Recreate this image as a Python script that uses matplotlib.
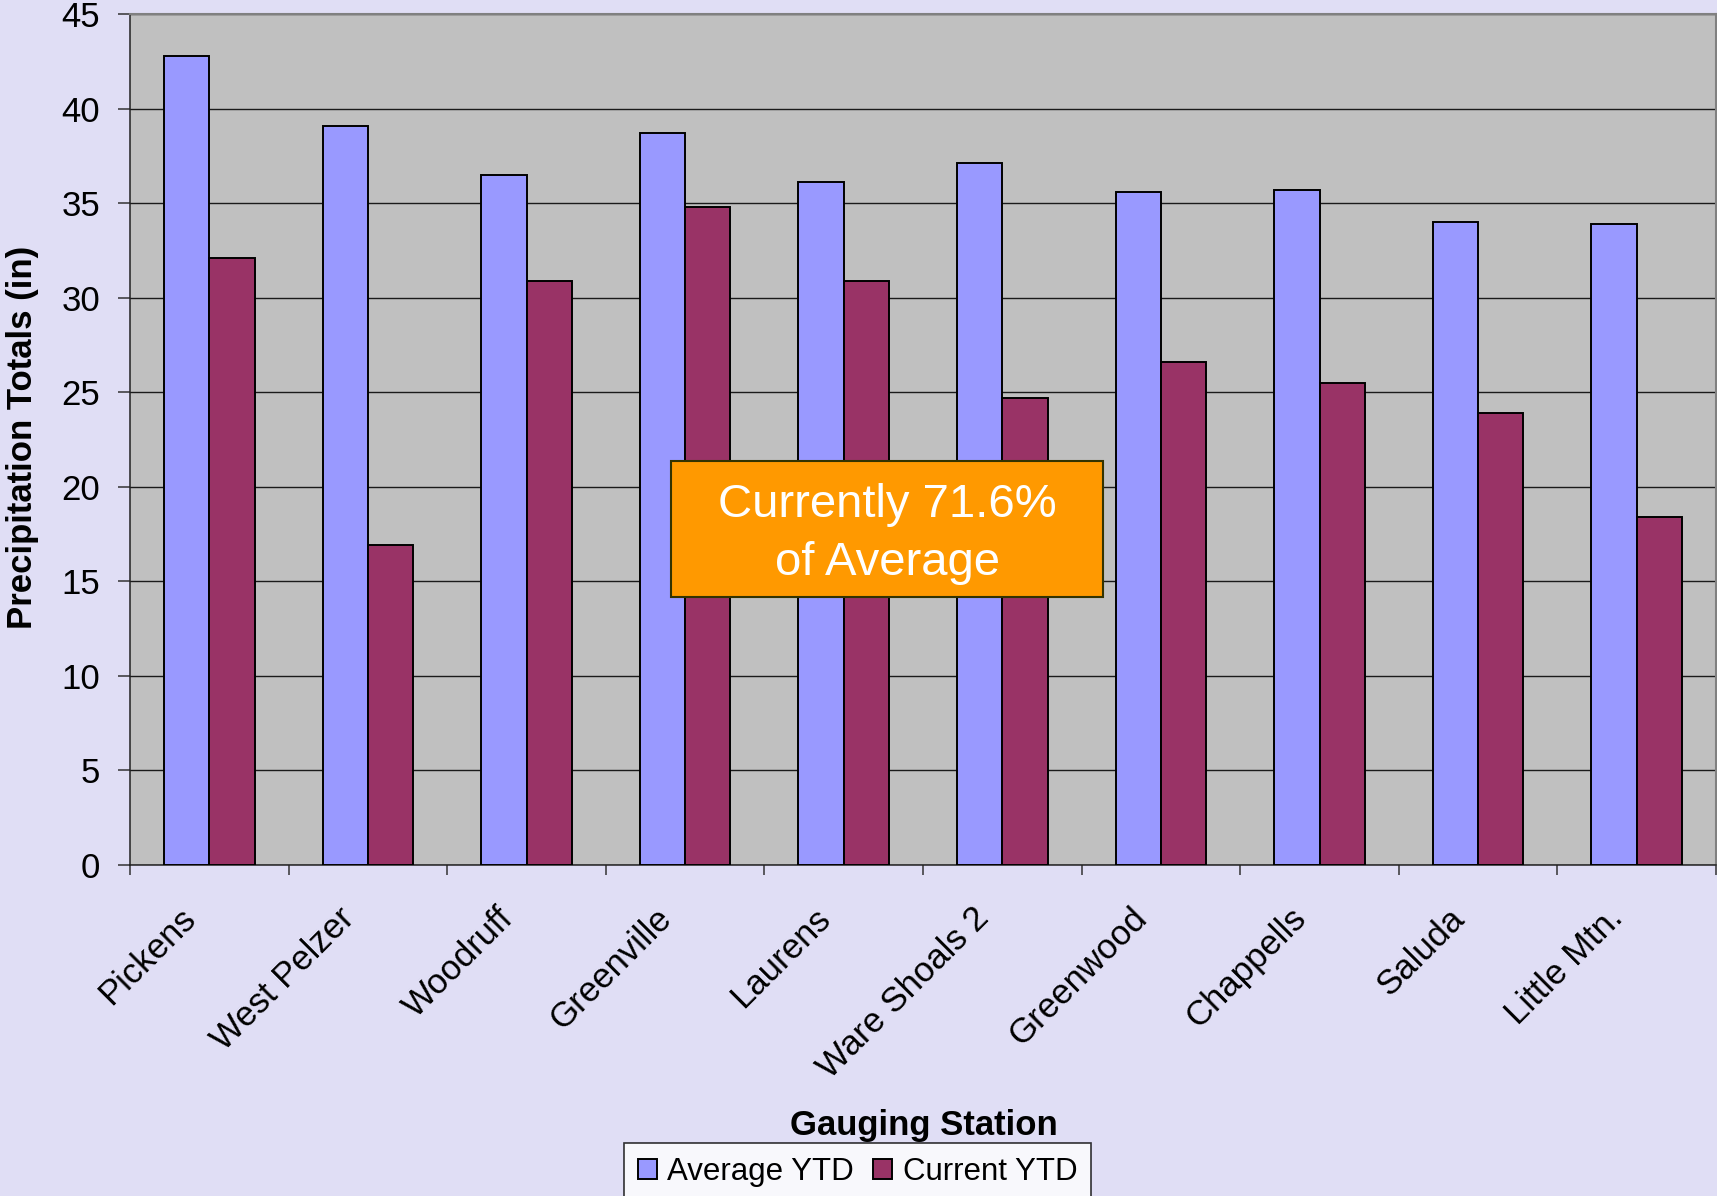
import numpy as np
import matplotlib.pyplot as plt
from matplotlib.patches import Rectangle
from matplotlib.transforms import ScaledTranslation

# station data (inches)
stations = ['Pickens', 'West Pelzer', 'Woodruff', 'Greenville', 'Laurens',
            'Ware Shoals 2', 'Greenwood', 'Chappells', 'Saluda', 'Little Mtn.']
average_ytd = [42.8, 39.1, 36.5, 38.7, 36.1, 37.1, 35.6, 35.7, 34.0, 33.9]
current_ytd = [32.1, 16.9, 30.9, 34.8, 30.9, 24.7, 26.6, 25.5, 23.9, 18.4]
note_lines = ['Currently 71.6%', 'of Average']

plt.rcParams['font.family'] = ['Liberation Sans', 'DejaVu Sans']

W, H = 1717, 1196
fig = plt.figure(figsize=(W/100, H/100), dpi=100)
fig.patch.set_facecolor('#E0DEF5')
ax = fig.add_axes([130/W, 1 - 865/H, 1586/W, 851/H])
ax.set_facecolor('#C0C0C0')

x = np.arange(len(stations))
w = 1/3.5
ax.bar(x - w/2, average_ytd, w, color='#9999FF', edgecolor='black', linewidth=1.4,
       label='Average YTD', zorder=3)
ax.bar(x + w/2, current_ytd, w, color='#993366', edgecolor='black', linewidth=1.4,
       label='Current YTD', zorder=3)

ax.set_xlim(-0.5, len(stations) - 0.5)
ax.set_ylim(0, 45)
ax.set_yticks(range(0, 46, 5))
ax.yaxis.grid(True, color='#1a1a1a', linewidth=1.0, zorder=1)
ax.tick_params(axis='y', labelsize=25, length=8.6, width=1.1, pad=13, color='#333333')

ax.set_xticks(x)
ax.set_xticklabels(stations, rotation=45, ha='right', va='baseline',
                   rotation_mode='anchor', fontsize=25)
ax.set_xticks(np.arange(-0.5, len(stations), 1), minor=True)
ax.tick_params(axis='x', which='major', length=0, pad=39.6)
ax.tick_params(axis='x', which='minor', length=7.2, width=1.1, color='#333333')
shift = ScaledTranslation(-12/100, 0, fig.dpi_scale_trans)
for lbl in ax.get_xticklabels():
    lbl.set_transform(lbl.get_transform() + shift)

for s in ['top', 'right']:
    ax.spines[s].set_color('#808080')
    ax.spines[s].set_linewidth(1.5)
for s in ['left', 'bottom']:
    ax.spines[s].set_color('#222222')
    ax.spines[s].set_linewidth(1.1)

fig.text(32/W, 1 - 437/H, 'Precipitation Totals (in)', rotation=90,
         rotation_mode='anchor', fontsize=25, fontweight='bold',
         ha='center', va='baseline')
fig.text(924/W, 1 - 1135/H, 'Gauging Station', fontsize=25,
         fontweight='bold', ha='center', va='baseline')

# orange call-out box
fig.patches.append(Rectangle((671/W, 1 - 597/H), 432/W, 136/H,
                             transform=fig.transFigure, facecolor='#FF9900',
                             edgecolor='#333300', linewidth=1.5, zorder=5))
for line, yb in zip(note_lines, [517, 575]):
    fig.text(887/W, 1 - yb/H, line, color='white', fontsize=34,
             ha='center', va='baseline', zorder=6)

leg = fig.legend(loc='upper center', bbox_to_anchor=(857.5/W, 1 - 1143/H),
                 ncol=2, fontsize=22.5, frameon=True, fancybox=False,
                 edgecolor='black', borderaxespad=0, handlelength=0.6,
                 handleheight=0.6, handletextpad=0.35, columnspacing=0.6,
                 borderpad=0.45)
leg.get_frame().set_linewidth(1.2)

fig.savefig('out.png', dpi=100, facecolor=fig.get_facecolor())
